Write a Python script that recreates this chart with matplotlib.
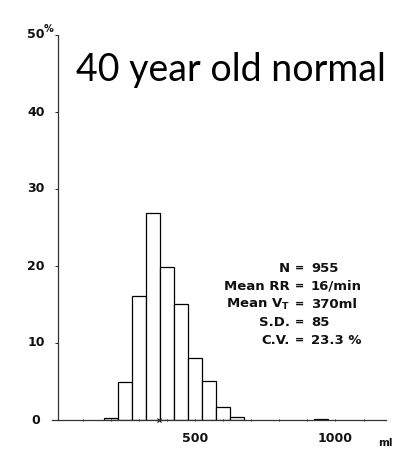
# histogram of tidal volume, 40 year old normal subject

import matplotlib.pyplot as plt
import numpy as np

plt.rcParams['font.family'] = ['DejaVu Sans']
plt.rcParams['mathtext.default'] = 'regular'

# bin centres (ml) and percentage of breaths in each 50 ml bin
bin_centres = [200, 250, 300, 350, 400, 450, 500, 550, 600, 650, 950]
percent = [0.3, 5.0, 16.1, 26.9, 19.9, 15.1, 8.0, 5.1, 1.65, 0.45, 0.1]
bin_width = 50
mean_vt = 370

y_ticks = [0, 10, 20, 30, 40, 50]
x_tick_labels = [500, 1000]

stat_names = ["N", "Mean RR", "Mean V$_T$", "S.D.", "C.V."]
stat_values = ["955", "16/min", "370ml", "85", "23.3 %"]

W, H = 393, 451
fig = plt.figure(figsize=(W / 100, H / 100), dpi=100)
ax = fig.add_axes([52 / W, 1 - 420 / H, 334 / W, 385 / H])

ax.bar(bin_centres, percent, width=bin_width, color="white",
       edgecolor="black", linewidth=0.9)
ax.plot([mean_vt], [0], marker="x", color="black", markersize=3,
        markeredgewidth=0.8, clip_on=False)

ax.set_xlim(-10, 1180)
ax.set_ylim(0, 50)

for s in ["top", "right"]:
    ax.spines[s].set_visible(False)
ax.spines["left"].set_position(("data", 12))
ax.spines["left"].set_color("#333333")
ax.spines["bottom"].set_color("#333333")
ax.spines["left"].set_linewidth(0.9)
ax.spines["bottom"].set_linewidth(0.9)

ax.set_xticks(np.arange(100, 1200, 100))
ax.set_xticklabels([])
ax.tick_params(axis="x", direction="inout", length=2, width=0.6)
ax.set_yticks(y_ticks)
ax.set_yticklabels([])
ax.tick_params(axis="y", direction="out", length=2, width=0.6)

# tick labels drawn by hand so they sit where the original has them
tick_font = dict(fontsize=9, color="#111111", fontweight="bold")
trans = ax.get_yaxis_transform()
for v in y_ticks:
    ax.text(-0.048, v, str(v), transform=trans,
            ha="center", va="center", **tick_font)
fig.text(49 / W, 1 - 29 / H, "%", ha="center", va="center",
         fontsize=7, fontweight="bold", color="#111111")
for v in x_tick_labels:
    ax.annotate(str(v), xy=(v, 0), xytext=(0, -13), textcoords="offset points",
                ha="center", va="center", **tick_font)
fig.text(385 / W, 1 - 443 / H, "ml", ha="center", va="center",
         fontsize=7.5, fontweight="bold", color="#111111")

fig.text(231 / W, 1 - 70 / H, "40 year old normal", ha="center", va="center",
         fontsize=27, family="Lato")

ys = [268, 286, 304, 322, 340]
for name, val, y in zip(stat_names, stat_values, ys):
    fy = 1 - y / H
    fig.text(290 / W, fy, name, ha="right", va="center", fontsize=9.5,
             fontweight="bold", color="#111111")
    fig.text(300 / W, fy, "=", ha="center", va="center", fontsize=8,
             fontweight="bold", color="#111111")
    fig.text(311 / W, fy, val, ha="left", va="center", fontsize=9.5,
             fontweight="bold", color="#111111")

fig.savefig("out.png", dpi=100)
